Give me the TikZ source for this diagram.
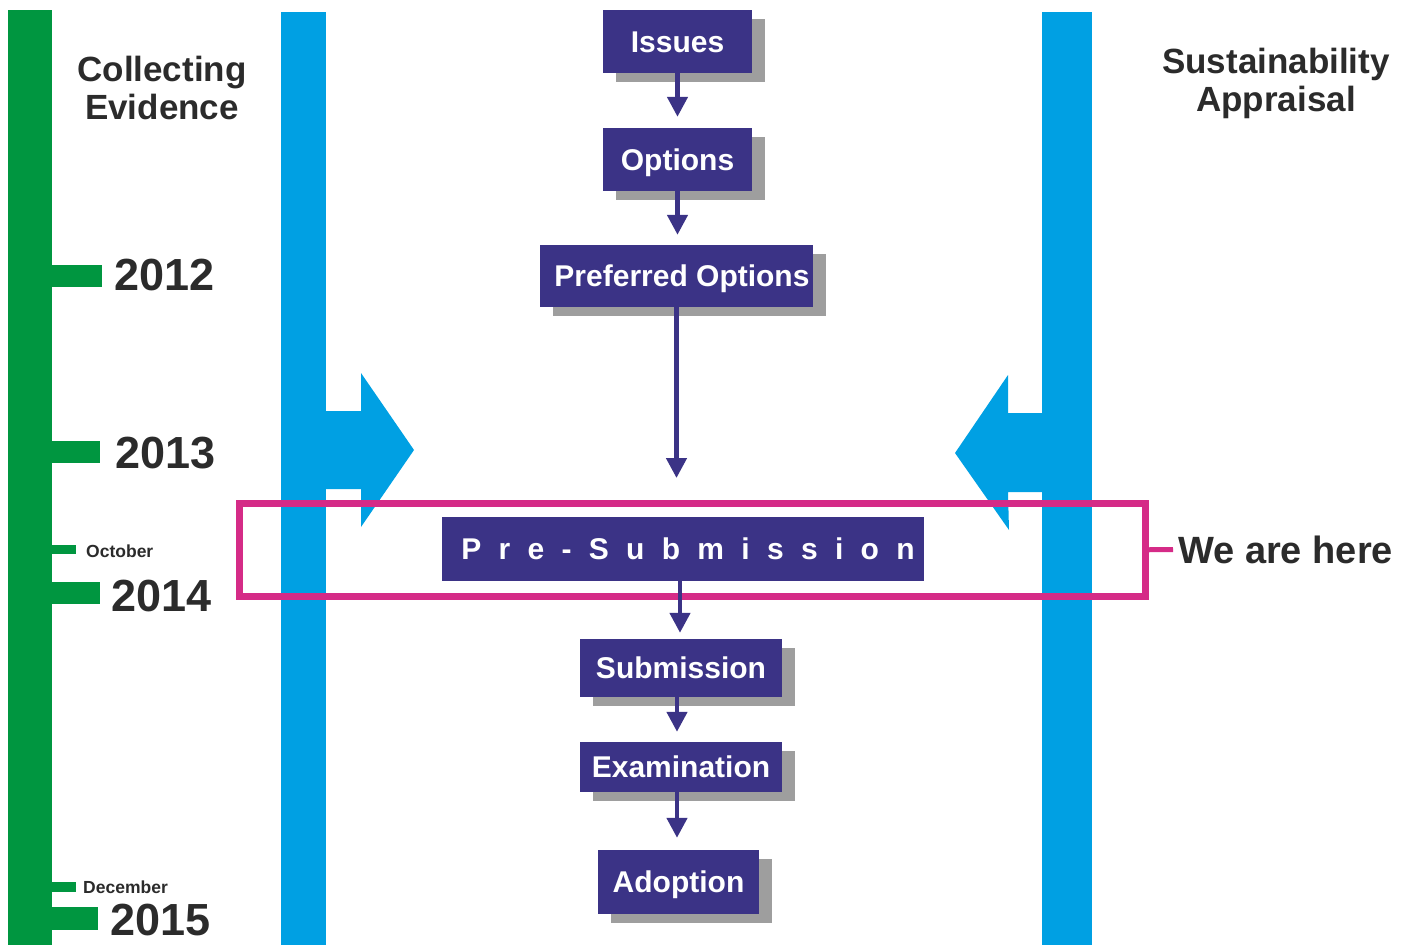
\documentclass[tikz,border=0pt]{standalone}
\usepackage{fontspec}
\setmainfont{Liberation Sans}
\usetikzlibrary{arrows.meta,shadows}
\definecolor{tlgreen}{RGB}{0,150,64}
\definecolor{sablue}{RGB}{0,160,227}
\definecolor{hereMag}{RGB}{213,43,135}
\definecolor{boxblue}{RGB}{59,51,134}
\definecolor{ink}{RGB}{43,43,43}
\newcommand{\sepl}{\kern17.3pt}
\begin{document}
\begin{tikzpicture}[x=1pt,y=-1pt,
  stagebase/.style={fill=boxblue, text=white, inner sep=0pt,
    font=\fontsize{30}{36}\selectfont\bfseries, text height=21.5pt, text depth=0pt},
  stage/.style={stagebase, drop shadow={shadow xshift=13pt, shadow yshift=-9pt, fill=black!38, opacity=1}},
  arr/.style={draw=boxblue, line width=4.5pt, -{Triangle[width=20pt,length=20pt]}},
  year/.style={text=ink, inner sep=0pt, anchor=base west, font=\fontsize{45}{50}\selectfont\bfseries},
  month/.style={text=ink, inner sep=0pt, anchor=base west, font=\fontsize{17.5}{20}\selectfont\bfseries},
  heading/.style={text=ink, inner sep=0pt, align=center, font=\fontsize{35}{38}\selectfont\bfseries},
  tick/.style={fill=tlgreen}
]
\useasboundingbox (0,0) rectangle (1409,945);
% green timeline
\fill[tlgreen] (8,10) rectangle (52,945);
\fill[tick] (52,265) rectangle (102,287);
\fill[tick] (52,441) rectangle (100,463);
\fill[tick] (52,545) rectangle (76,554);
\fill[tick] (52,582) rectangle (100,604);
\fill[tick] (52,882) rectangle (76,892);
\fill[tick] (52,907) rectangle (98,930);
\node[year] (y2012) at (114,290) {2012};
\node[year] (y2013) at (115,468) {2013};
\node[month] (oct) at (86,557) {October};
\node[year] (y2014) at (111,611) {2014};
\node[month] (dec) at (83,893) {December};
\node[year] (y2015) at (110,935) {2015};
\node[heading] (evid) at (162,88) {Collecting\\Evidence};
\node[heading] (sapp) at (1276,83) {Sustainability\\Appraisal};
% blue bars and arrows
\fill[sablue] (281,12) rectangle (326,945);
\fill[sablue] (1042,12) rectangle (1092,945);
\fill[sablue] (325,411) -- (361,411) -- (361,373) -- (414,450) -- (361,527) -- (361,489) -- (325,489) -- cycle;
\fill[sablue] (1043,413) -- (1008,413) -- (1008,375) -- (955,453) -- (1009,530) -- (1008,492) -- (1043,492) -- cycle;
% we are here
\node[draw=hereMag, line width=7pt, minimum width=906pt, minimum height=92.5pt, inner sep=0pt] (here) at (692.5,549.75) {};
\node[text=ink, inner xsep=5pt, inner ysep=0pt, anchor=base west, text height=27pt, text depth=0pt,
  font=\fontsize{38}{44}\selectfont\bfseries] (weare) at (1173,563) {We are here};
\draw[hereMag, line width=5pt] (here.east) -- (weare.west);
% stages
\node[stage, minimum width=149pt, minimum height=63pt] (issues) at (677.5,41.5) {Issues};
\node[stage, minimum width=149pt, minimum height=63pt] (options) at (677.5,159.5) {Options};
\node[stage, minimum width=273pt, minimum height=62pt] (pref) at (676.5,276) {\kern11pt Preferred Options};
\node[stagebase, minimum width=482pt, minimum height=64pt] (pre) at (683,549) {\kern10pt P\sepl r\sepl e\sepl -\sepl S\sepl u\sepl b\sepl m\sepl i\sepl s\sepl s\sepl i\sepl o\sepl n};
\node[stage, minimum width=202pt, minimum height=58pt] (sub) at (681,668) {Submission};
\node[stage, minimum width=202pt, minimum height=50pt] (exam) at (681,767) {Examination};
\node[stage, minimum width=161pt, minimum height=64pt] (adopt) at (678.5,882) {Adoption};
\coordinate (pend) at (676.5,478);
\draw[arr, shorten >=11pt] (issues.south) -- (issues.south |- options.north);
\draw[arr, shorten >=10pt] (options.south) -- (options.south |- pref.north);
\draw[arr] (pref.south) -- (pend);
\draw[arr, shorten >=6pt] ([xshift=-1pt]pre.south -| sub.north) -- ([xshift=-1pt]sub.north);
\draw[arr, shorten >=10pt] ([xshift=-4pt]sub.south) -- ([xshift=-4pt]sub.south |- exam.north);
\draw[arr, shorten >=12pt] ([xshift=-4pt]exam.south) -- ([xshift=-4pt]exam.south |- adopt.north);
\end{tikzpicture}
\end{document}
